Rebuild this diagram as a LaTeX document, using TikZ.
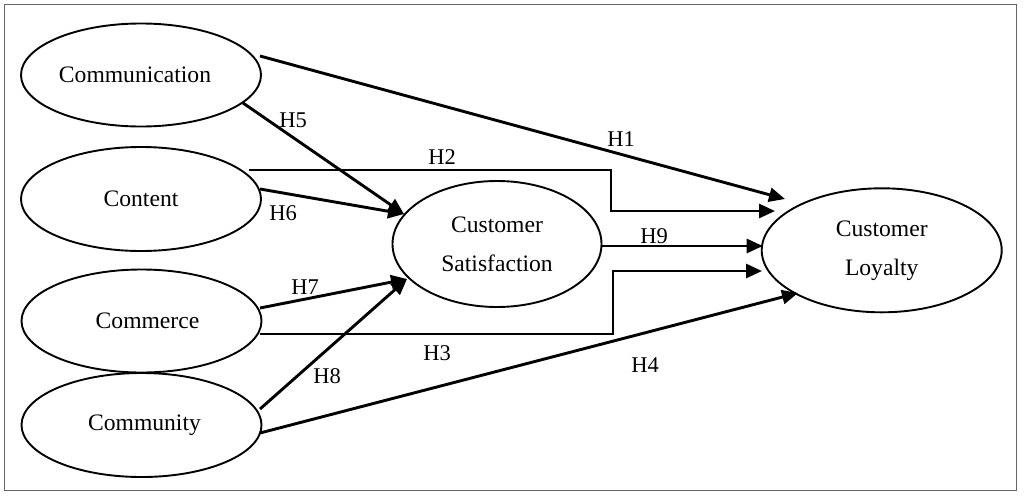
\documentclass[tikz,border=0pt]{standalone}
\usepackage{fontspec}
\setmainfont{Liberation Serif}
\usetikzlibrary{arrows.meta,calc,shapes.geometric}
\begin{document}
\begin{tikzpicture}[x=1pt,y=-1pt,
  construct/.style={ellipse,draw,line width=1.9pt,inner sep=0pt,outer sep=0pt,
    font=\fontsize{23.6}{39}\selectfont,align=center},
  hpath/.style={line width=2.9pt,-{Triangle[length=16pt,width=14pt]}},
  hyp/.style={font=\fontsize{22.5}{27}\selectfont,inner sep=0pt}]
\useasboundingbox (0,0) rectangle (1024,501);
\draw[draw=gray!80!black,line width=1.5pt] (4.5,4.5) rectangle (1016.5,490.5);
% constructs
\node[construct,minimum width=240pt,minimum height=103pt] (comm) at (141,75) {\hspace*{-12pt}Communication};
\node[construct,minimum width=240pt,minimum height=104pt] (cont) at (141,199) {Content};
\node[construct,minimum width=240pt,minimum height=103pt] (comc) at (141.5,321) {\hspace*{12pt}Commerce};
\node[construct,minimum width=240pt,minimum height=104pt] (cmty) at (141.5,425) {\hspace*{6pt}Community};
\node[construct,minimum width=209pt,minimum height=126pt] (sat) at (497,244) {Customer\\Satisfaction};
\node[construct,minimum width=240pt,minimum height=124pt] (loy) at (881.7,250.3) {Customer\\Loyalty};
% paths
\draw[hpath] ($(comm.center)+(119,-19)$) -- ($(loy.center)+(-96.7,-51.3)$);
\draw[hpath] ($(comm.center)+(102,28)$) -- ($(sat.center)+(-93,-30)$);
\draw[hpath] ($(cont.center)+(119,-10)$) -- ($(sat.center)+(-93,-30)$);
\draw[hpath] ($(cont.center)+(108,-29)$) -| ($(loy.center)+(-270.7,-39.3)$) -- ($(loy.center)+(-106.7,-39.3)$);
\draw[hpath] ($(sat.center)+(104.5,2)$) -- ($(loy.center)+(-119,-4.3)$);
\draw[hpath] ($(comc.center)+(118.5,13)$) -| ($(loy.center)+(-268.7,20.7)$) -- ($(loy.center)+(-119.7,20.7)$);
\draw[hpath] ($(comc.center)+(118.5,-13)$) -- ($(sat.center)+(-90,35)$);
\draw[hpath] ($(cmty.center)+(118.5,-16)$) -- ($(sat.center)+(-90,35)$);
\draw[hpath] ($(cmty.center)+(118.5,8)$) -- ($(loy.center)+(-83.7,42.7)$);
% labels
\node[hyp] (h1) at (621,139) {H1};
\node[hyp] (h2) at (442,157) {H2};
\node[hyp] (h3) at (437,353) {H3};
\node[hyp] (h4) at (645,365) {H4};
\node[hyp] (h5) at (293,120) {H5};
\node[hyp] (h6) at (283,213) {H6};
\node[hyp] (h7) at (305,287) {H7};
\node[hyp] (h8) at (327,376) {H8};
\node[hyp] (h9) at (654,236) {H9};
\end{tikzpicture}
\end{document}
